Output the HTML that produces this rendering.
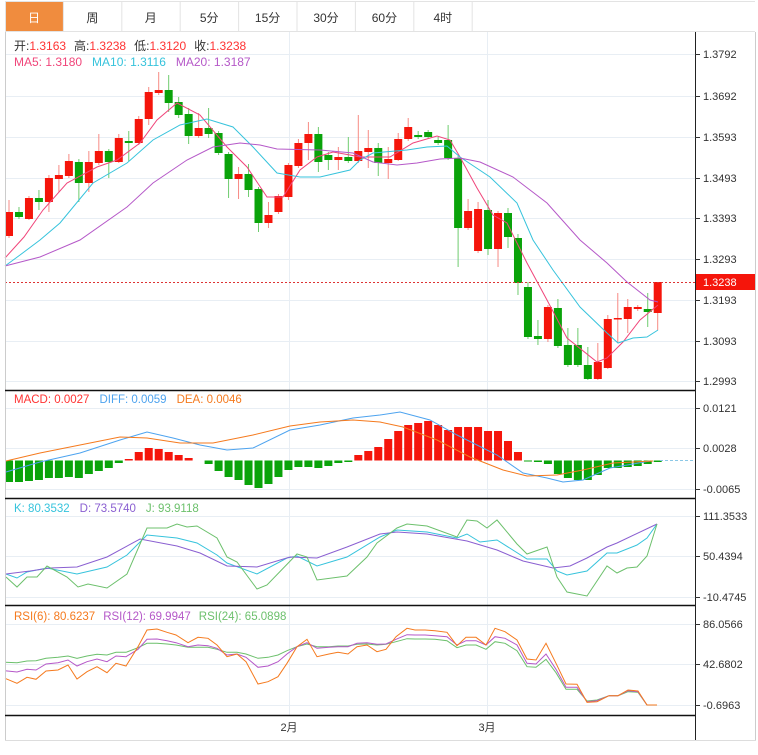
<!DOCTYPE html>
<html><head><meta charset="utf-8"><style>
body{margin:0;background:#fff;width:758px;height:750px;overflow:hidden;font-family:"Liberation Sans","Noto Sans CJK SC",sans-serif}
svg text{font-family:"Liberation Sans","Noto Sans CJK SC",sans-serif}
</style></head><body>
<svg id="s" width="758" height="750" xmlns="http://www.w3.org/2000/svg"></svg>
<script>
var S='';
function L(x1,y1,x2,y2,c,w,d){S+='<line x1="'+x1+'" y1="'+y1+'" x2="'+x2+'" y2="'+y2+'" stroke="'+c+'" stroke-width="'+(w||1)+'"'+(d?' stroke-dasharray="'+d+'"':'')+'/>';}
function R(x,y,w,h,c){S+='<rect x="'+x+'" y="'+y+'" width="'+w+'" height="'+h+'" fill="'+c+'"/>';}
function T(x,y,t,c,sz,a){S+='<text x="'+x+'" y="'+y+'" fill="'+c+'" font-size="'+(sz||12)+'"'+(a?' text-anchor="'+a+'"':'')+'>'+t+'</text>';}
function P(pts,c,w){S+='<polyline fill="none" stroke="'+c+'" stroke-width="'+(w||1)+'" points="'+pts.map(function(p){return p[0]+','+p[1]}).join(' ')+'"/>';}
// tabs
var tabs=['日','周','月','5分','15分','30分','60分','4时'];
L(5,1.5,755,1.5,'#e3e3e3');L(5,31.5,755,31.5,'#e3e3e3');
for(var i=0;i<8;i++){var x=5+i*58.4;if(i==0)R(5,2,58,29,'#f08c3e');L(x+58.4,2,x+58.4,31,'#e3e3e3');T(x+29,22,tabs[i],i==0?'#fff':'#333',12,'middle');}
L(5.5,2,5.5,31,'#e3e3e3');
// grids
var G='#e8eef4';
[54,96,137,178,218,259,300,341,381,408,448,489,516,556,597,624,664,705].forEach(function(y){L(5,y+.5,695,y+.5,G)});
L(289.5,32,289.5,715,G);L(487.5,32,487.5,715,G);
// candles
var C=[[212,236,200,238,1],[212,217,207,219,0],[198,219,196,220,1],[198,202,190,210,0],[178,202,175,212,1],[175,179,165,192,1],[161,176,154,178,1],[162,183,159,202,0],[162,183,151,192,1],[151,163,134,165,1],[151,162,149,178,0],[138,162,134,163,1],[141,143,131,161,0],[119,143,116,145,1],[92,119,87,125,1],[90,93,72,95,1],[90,103,75,112,0],[102,115,97,118,0],[114,136,108,144,0],[128,136,113,138,1],[128,134,108,138,0],[133,153,131,155,0],[154,179,152,198,0],[174,179,167,199,1],[174,190,164,197,0],[189,223,187,232,0],[215,223,202,228,1],[196,212,194,214,1],[165,197,163,200,1],[143,166,139,168,1],[134,143,122,160,1],[134,162,127,172,0],[155,160,152,170,0],[157,160,147,170,1],[157,161,137,163,0],[151,161,115,163,1],[148,152,130,168,1],[148,163,143,176,0],[159,163,147,179,1],[139,160,133,161,1],[127,139,118,141,1],[135,137,131,139,0],[132,137,130,139,0],[140,143,137,145,0],[140,158,125,160,0],[158,228,156,267,0],[211,228,199,230,1],[209,251,202,253,1],[210,249,200,255,0],[213,249,211,267,1],[213,237,208,248,0],[238,283,234,295,0],[287,337,282,339,0],[336,339,320,345,0],[307,339,305,342,1],[308,346,299,348,0],[345,365,328,367,0],[345,365,328,367,0],[365,379,347,380,0],[362,379,343,380,1],[319,368,315,369,1],[318,319,293,343,1],[307,319,299,333,1],[307,309,305,311,1],[309,312,293,327,0],[282,313,282,330,1]];
var RED='#f5150b',GRN='#0aa30a';
C.forEach(function(c,i){var x=9+i*9.98,col=c[4]?RED:GRN,lc=c[4]?'#f78a84':'#6fcc6f';L(x,c[2],x,c[3],lc,1);R(x-4,c[0],8,Math.max(c[1]-c[0],1.5),col);});
// MAs
P([[5,258],[24,237],[43,210],[67,183],[97,167],[117,160],[140,143],[157,120],[177,103],[200,115],[227,147],[247,167],[267,197],[283,197],[300,170],[317,157],[333,152],[350,155],[360,157],[390,157],[413,143],[437,136],[450,140],[460,157],[477,188],[493,215],[507,223],[527,263],[547,300],[567,338],[597,362],[607,358],[623,342],[640,320],[658,305]],'#f0457a');
P([[5,266],[20,255],[40,240],[60,223],[93,183],[127,163],[153,140],[180,125],[207,119],[233,127],[253,147],[277,173],[300,177],[320,177],[350,170],[360,160],[373,153],[407,150],[427,147],[447,146],[460,157],[490,177],[517,203],[533,240],[553,270],[580,307],[607,333],[618,343],[633,338],[647,337],[658,330]],'#36c3dc');
P([[5,266],[40,257],[80,240],[127,207],[153,183],[187,160],[213,147],[240,143],[260,145],[277,149],[320,150],[353,153],[373,162],[397,165],[417,163],[440,159],[460,158],[480,162],[513,177],[547,203],[580,240],[607,263],[627,282],[650,300],[658,302]],'#b558c8');
L(5,282.5,695,282.5,'#d33','1','2,2');
// MACD bars
var M=[482,482,481,480,478,478,477,478,474,471,468,463,459,452,448,449,452,455,458,460.5,464,471,477,480,485,488,484,477,470,467,467,468,466,463,462,455,451,447,439,431,425,423,421,425,430,427,427,427,431,431,441,452,461.5,462,464,474,478,480,480,475,468,468,467,466,464,462];
var Z=460.5;
M.forEach(function(v,i){var x=9+i*9.98;if(Math.abs(v-Z)<.8)return;if(v<Z)R(x-4,v,8,Z-v,RED);else R(x-4,Z,8,v-Z,GRN);});
L(660,Z,695,Z,'#8cc8e6',1,'3,2');
P([[6,472],[40,462],[80,453],[120,440],[147,432],[173,438],[200,445],[227,450],[253,448],[290,430],[320,425],[353,418],[380,415],[400,412],[430,420],[457,435],[497,455],[523,473],[547,478],[563,482],[583,480],[610,468],[650,461]],'#4da3ef');
P([[6,461],[40,453],[80,445],[120,437],[147,438],[180,443],[213,443],[253,435],[290,426],[320,422],[353,420],[380,422],[403,427],[437,440],[470,457],[503,470],[527,476],[557,475],[583,470],[613,463],[653,461]],'#f57a1e');
// KDJ
P([[6,574],[17,578],[27,572],[47,568],[77,574],[107,567],[127,555],[147,535],[177,538],[197,543],[217,555],[227,563],[257,574],[287,558],[297,556],[317,566],[347,557],[380,537],[397,530],[427,532],[457,538],[467,534],[480,542],[497,540],[527,559],[547,559],[557,571],[567,575],[587,571],[607,553],[617,553],[637,545],[647,538],[657,524]],'#36c3dc');
P([[6,574],[30,571],[50,568],[77,567],[107,557],[140,539],[177,546],[200,553],[227,566],[257,567],[290,557],[317,558],[347,547],[380,534],[397,532],[427,534],[467,541],[497,550],[523,561],[553,568],[570,566],[587,558],[607,547],[617,543],[657,524]],'#8a5fd1');
P([[6,577],[17,587],[27,577],[37,577],[47,566],[67,577],[78,587],[88,584],[107,588],[127,574],[147,528],[167,528],[177,524],[187,527],[197,526],[217,538],[227,557],[237,562],[257,589],[267,585],[297,554],[307,557],[317,580],[347,576],[367,557],[377,543],[397,528],[407,524],[427,526],[457,537],[467,520],[477,521],[487,528],[497,520],[517,544],[527,554],[547,547],[557,577],[567,592],[587,596],[607,566],[617,573],[627,568],[637,567],[647,556],[657,524]],'#6cc06c');
// RSI
var RX=[5,17,27,36,46,58,68,77,87,97,107,116,126,138,147,157,167,176,188,198,208,217,227,237,246,258,268,278,287,297,307,317,329,338,348,357,367,377,386,396,407,415,425,435,447,457,466,476,486,495,505,517,527,536,546,556,566,577,587,597,609,618,628,638,647,657];
function rs(a,c){P(a.map(function(v,i){return [RX[i],(600+v/3).toFixed(1)]}),c);}
rs([187,188,183,182,175,172,168,175,168,163,165,157,157,143,130,130,132,135,142,142,142,148,157,157,162,175,172,165,152,140,132,140,140,138,138,133,132,135,133,125,116,117,117,118,122,143,135,135,148,125,130,152,200,202,178,218,268,268,303,300,287,287,275,277,315,315],'#6cc06c');
rs([212,216,208,210,192,188,180,198,185,177,185,168,170,148,118,117,122,128,140,135,137,145,165,162,172,202,198,185,162,140,128,145,142,140,140,130,128,133,132,118,104,105,105,107,110,135,122,122,135,110,115,135,190,192,162,208,262,262,305,302,287,287,272,275,315,315],'#b558c8');
rs([235,250,232,238,213,210,195,237,215,200,218,190,198,140,90,87,97,105,128,112,115,135,170,162,185,252,245,230,190,140,118,170,162,157,162,140,135,155,148,110,85,90,90,92,97,137,112,112,135,85,95,120,177,180,130,190,252,253,307,305,287,287,270,273,315,315],'#f57a1e');
// frame
L(5.5,32,5.5,740,'#ccc');L(755.5,32,755.5,740,'#ccc');L(5,740.5,756,740.5,'#ddd');
L(695.5,32,695.5,740,'#222');
[390,498,605,715].forEach(function(y){L(5,y+.5,695,y+.5,'#111',1.5)});
// right axis
var ax=[[54,'1.3792'],[96,'1.3692'],[137,'1.3593'],[178,'1.3493'],[218,'1.3393'],[259,'1.3293'],[300,'1.3193'],[341,'1.3093'],[381,'1.2993'],[408,'0.0121'],[448,'0.0028'],[489,'-0.0065'],[516,'111.3533'],[556,'50.4394'],[597,'-10.4745'],[624,'86.0566'],[664,'42.6802'],[705,'-0.6963']];
ax.forEach(function(a){L(695,a[0]+.5,700,a[0]+.5,'#333');T(703,a[0]+4,a[1],'#333',11);});
R(696,274,59,16,'#f5150b');T(703,286,'1.3238','#fff',11);
T(289,731,'2月','#333',11,'middle');T(487,731,'3月','#333',11,'middle');
// legends
S+='<text x="14" y="50" font-size="12"><tspan fill="#333">开:</tspan><tspan fill="#f33">1.3163</tspan><tspan fill="#333" dx="8">高:</tspan><tspan fill="#f33">1.3238</tspan><tspan fill="#333" dx="8">低:</tspan><tspan fill="#f33">1.3120</tspan><tspan fill="#333" dx="8">收:</tspan><tspan fill="#f33">1.3238</tspan></text>';
S+='<text x="14" y="66" font-size="12"><tspan fill="#f0457a">MA5: 1.3180</tspan><tspan fill="#36c3dc" dx="10">MA10: 1.3116</tspan><tspan fill="#b558c8" dx="10">MA20: 1.3187</tspan></text>';
S+='<text x="14" y="403" font-size="11.5"><tspan fill="#f33">MACD: 0.0027</tspan><tspan fill="#4da3ef" dx="10">DIFF: 0.0059</tspan><tspan fill="#f57a1e" dx="10">DEA: 0.0046</tspan></text>';
S+='<text x="14" y="512" font-size="11.5"><tspan fill="#36c3dc">K: 80.3532</tspan><tspan fill="#8a5fd1" dx="10">D: 73.5740</tspan><tspan fill="#6cc06c" dx="10">J: 93.9118</tspan></text>';
S+='<text x="14" y="620" font-size="11.5"><tspan fill="#f57a1e">RSI(6): 80.6237</tspan><tspan fill="#b558c8" dx="8">RSI(12): 69.9947</tspan><tspan fill="#6cc06c" dx="8">RSI(24): 65.0898</tspan></text>';
document.getElementById('s').innerHTML=S;
</script>
</body></html>
